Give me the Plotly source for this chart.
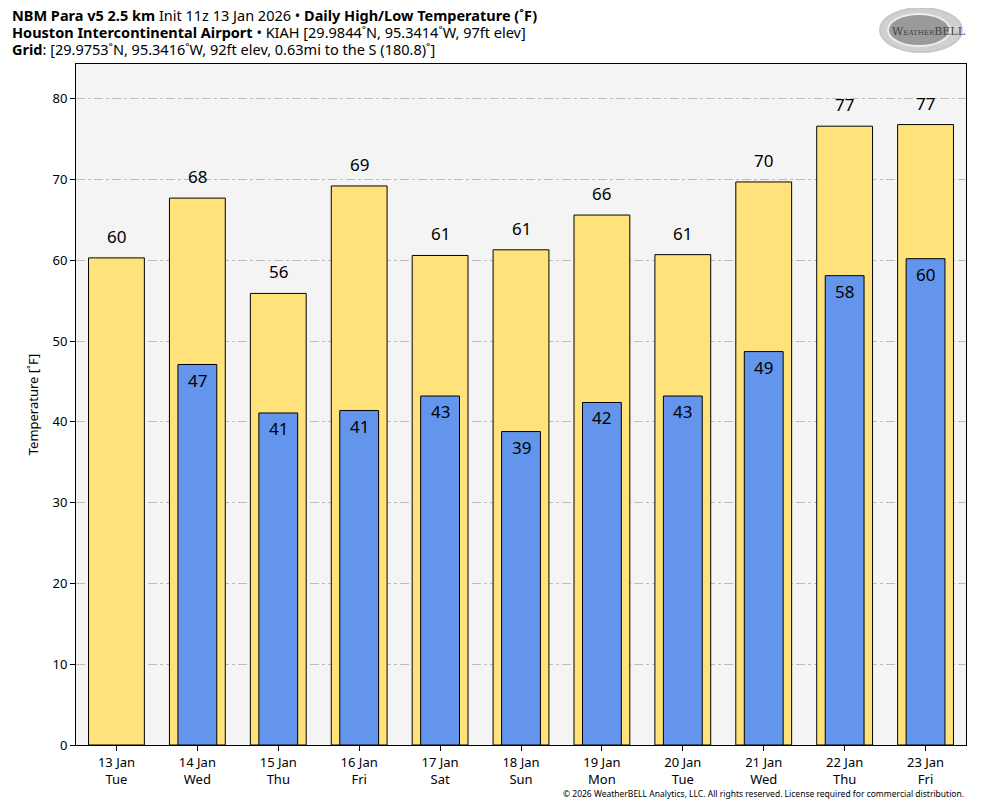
import plotly.graph_objects as go

dates = ["13 Jan", "14 Jan", "15 Jan", "16 Jan", "17 Jan", "18 Jan", "19 Jan", "20 Jan", "21 Jan", "22 Jan", "23 Jan"]
weekdays = ["Tue", "Wed", "Thu", "Fri", "Sat", "Sun", "Mon", "Tue", "Wed", "Thu", "Fri"]
highs = [60.3, 67.7, 55.9, 69.2, 60.6, 61.3, 65.6, 60.7, 69.7, 76.6, 76.8]
lows = [None, 47.1, 41.1, 41.4, 43.2, 38.8, 42.4, 43.2, 48.7, 58.1, 60.2]
yticks = [0, 10, 20, 30, 40, 50, 60, 70, 80]

cats = [f"{d}<br>{w}" for d, w in zip(dates, weekdays)]
FONT = "Noto Sans"

# page offset (browser body margin) compensation
OFF = 8
W, H = 984 - OFF, 808 - OFF
PL, PR, PT, PB = 76, 966, 64, 745  # plot area in screen pixels


def px(x):
    return (x - PL) / (PR - PL)


def py(y):
    return (PB - y) / (PB - PT)


fig = go.Figure()
fig.add_trace(go.Bar(x=cats, y=highs, width=0.69, marker=dict(color="#FFE37A", line=dict(color="black", width=1)),
                     hoverinfo="y", name="High"))
fig.add_trace(go.Bar(x=cats, y=lows, width=0.48, marker=dict(color="#6495ED", line=dict(color="black", width=1)),
                     hoverinfo="y", name="Low"))

ann = []
for c, h in zip(cats, highs):
    ann.append(dict(x=c, y=h, xref="x", yref="y", text=f"{round(h)}", showarrow=False,
                    yanchor="bottom", yshift=8, font=dict(size=17, color="black", family=FONT)))
for c, l in zip(cats, lows):
    if l is not None:
        ann.append(dict(x=c, y=l, xref="x", yref="y", text=f"{round(l)}", showarrow=False,
                        yanchor="top", yshift=-2, font=dict(size=17, color="black", family=FONT)))

ann += [
    dict(x=px(10), y=py(15), xref="paper", yref="paper", xanchor="left", yanchor="middle", showarrow=False,
         text="<b>NBM Para v5 2.5 km</b> Init 11z 13 Jan 2026 • <b>Daily High/Low Temperature (˚F)</b>",
         font=dict(size=14.5, family=FONT, color="black")),
    dict(x=px(10), y=py(32), xref="paper", yref="paper", xanchor="left", yanchor="middle", showarrow=False,
         text="<b>Houston Intercontinental Airport</b> • KIAH [29.9844˚N, 95.3414˚W, 97ft elev]",
         font=dict(size=14.5, family=FONT, color="black")),
    dict(x=px(10), y=py(49), xref="paper", yref="paper", xanchor="left", yanchor="middle", showarrow=False,
         text="<b>Grid</b>: [29.9753˚N, 95.3416˚W, 92ft elev, 0.63mi to the S (180.8)˚]",
         font=dict(size=14.5, family=FONT, color="black")),
    dict(x=px(966), y=py(794), xref="paper", yref="paper", xanchor="right", yanchor="middle", showarrow=False,
         text="© 2026 WeatherBELL Analytics, LLC. All rights reserved. License required for commercial distribution.",
         font=dict(size=8.5, family=FONT, color="black")),
    dict(x=px(929), y=py(31), xref="paper", yref="paper", xanchor="center", yanchor="middle", showarrow=False,
         text="W<span style='font-size:7px'>EATHER</span>BELL",
         font=dict(size=11, family="DejaVu Serif", color="#444444")),
]

fig.update_layout(
    width=W, height=H,
    margin=dict(l=PL - OFF, r=W - (PR - OFF), t=PT - OFF, b=H - (PB - OFF)),
    paper_bgcolor="white", plot_bgcolor="#F4F4F4",
    barmode="overlay", showlegend=False,
    font=dict(family=FONT, size=13, color="black"),
    annotations=ann,
    shapes=[
        dict(type="circle", xref="paper", yref="paper",
             x0=px(880), x1=px(962), y0=py(52), y1=py(8),
             line=dict(color="#c8c8c8", width=2), fillcolor="#d0d0d0", layer="below"),
        dict(type="circle", xref="paper", yref="paper",
             x0=px(888), x1=px(950), y0=py(46), y1=py(14),
             line=dict(color="#ededed", width=2), fillcolor="#9a9a9a", layer="below"),
    ],
    xaxis=dict(type="category", range=[-0.5, 10.5], showline=True, linecolor="black", linewidth=1, mirror=True,
               ticks="outside", ticklen=5, tickcolor="black", tickfont=dict(size=13), showgrid=False),
    yaxis=dict(range=[0, 84.3], tickvals=yticks, showline=True, linecolor="black", linewidth=1, mirror=True,
               ticks="outside", ticklen=5, tickcolor="black", tickfont=dict(size=13),
               showgrid=True, gridcolor="#BDBDBD", griddash="dashdot", gridwidth=1, zeroline=False,
               title=dict(text="Temperature [˚F]", font=dict(size=13), standoff=10)),
)

fig.write_html("out.html")
